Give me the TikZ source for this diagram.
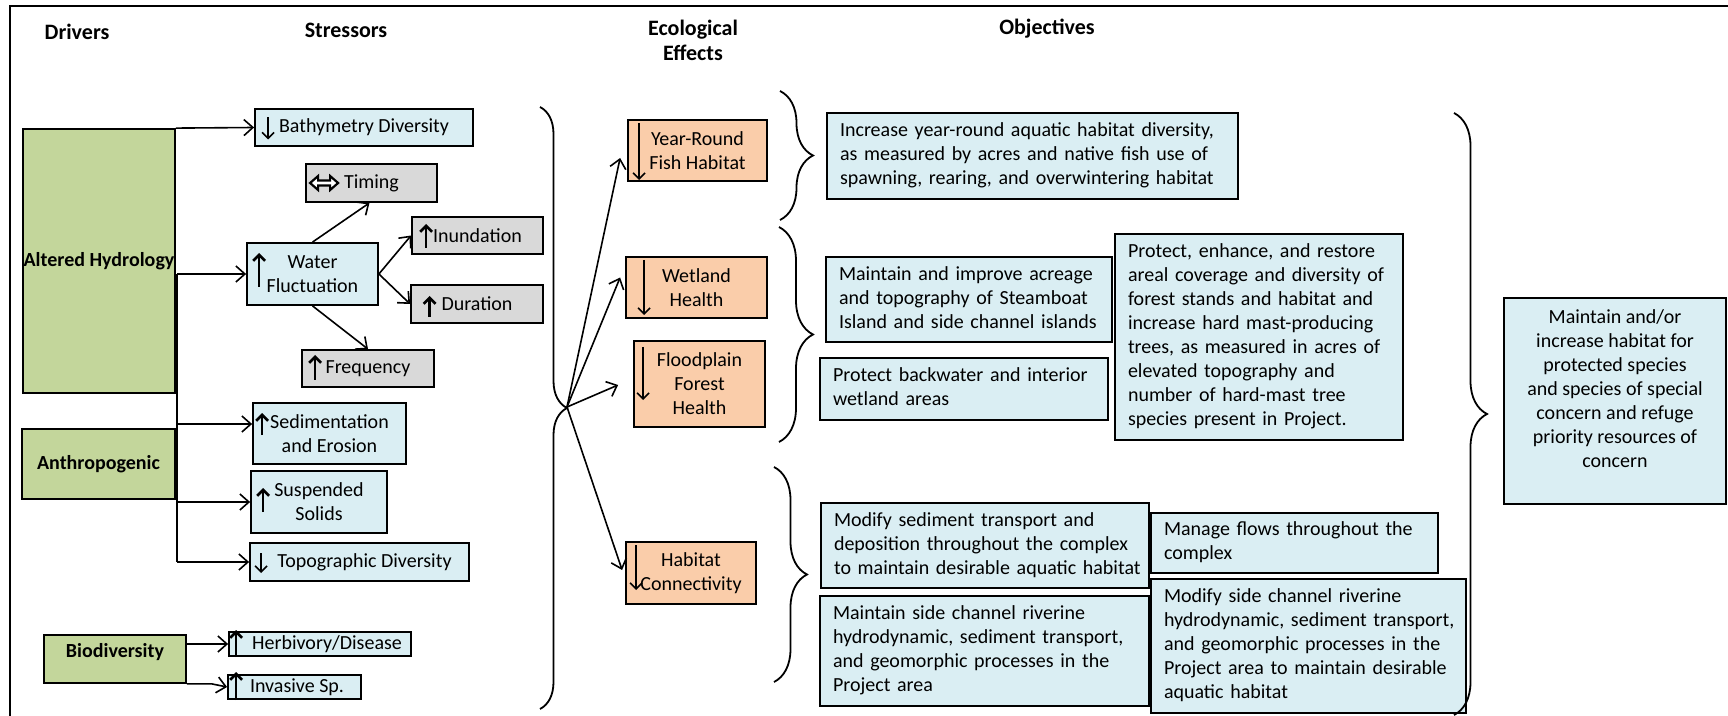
\documentclass[tikz,border=0pt]{standalone}
\usepackage{fontspec}
\setmainfont{Carlito}
\usetikzlibrary{arrows.meta,calc,decorations.pathreplacing}

\definecolor{drvgreen}{RGB}{195,214,155}
\definecolor{strblue}{RGB}{218,238,243}
\definecolor{strgray}{RGB}{217,217,217}
\definecolor{effpeach}{RGB}{250,205,170}

% lines of an objective box, set without automatic wrapping
\newcommand{\objlines}[1]{\begin{tabular}{@{}l@{}}#1\end{tabular}}

\tikzset{
  base/.style={draw=black, line width=0.9pt, inner sep=0pt,
    font=\fontsize{10}{12}\selectfont, align=center},
  driver/.style={base, fill=drvgreen, font=\fontsize{10}{12}\selectfont\bfseries},
  stress/.style={base, fill=strblue},
  flowbox/.style={base, fill=strgray},
  effect/.style={base, fill=effpeach},
  objective/.style={base, fill=strblue, align=left, inner xsep=6.5pt},
  heading/.style={font=\fontsize{11}{12.5}\selectfont\bfseries, align=center, inner sep=0pt},
  conn/.style={line width=0.8pt, -{Straight Barb[length=4.5pt,width=8pt]}},
  trunk/.style={line width=0.8pt},
  upsym/.style={line width=1.3pt, -{Straight Barb[length=3pt,width=6pt]}},
  downsym/.style={line width=0.8pt, -{Straight Barb[length=3pt,width=6pt]}},
  bracket/.style={line width=0.9pt, decorate, decoration={brace, amplitude=#1}},
}

\begin{document}
\begin{tikzpicture}[x=0.5pt, y=-0.5pt]
\useasboundingbox (0,0) rectangle (1728,716);
\clip (0,0) rectangle (1728,716);

% outer frame
\draw[line width=1.3pt] (10,760) -- (10,6) -- (1760,6);

% column headings
\node[heading] (hDrivers) at (77,32) {Drivers};
\node[heading] (hStressors) at (346,30) {Stressors};
\node[heading] (hEffects) at (693,40) {Ecological\\Effects};
\node[heading] (hObjectives) at (1047,29) {Objectives};

% drivers
\node[driver, minimum width=76pt, minimum height=132pt] (AH) at (99,261) {\makebox[0pt]{Altered Hydrology}};
\node[driver, minimum width=76.5pt, minimum height=35pt] (AN) at (98.5,464) {Anthropogenic};
\node[driver, minimum width=71pt, minimum height=24pt] (BIO) at (115,659) {\raisebox{3.5pt}[\height][\depth]{Biodiversity}};

% stressors
\node[stress, minimum width=109pt, minimum height=18.5pt] (BD) at (364,127.5) {Bathymetry Diversity};
\node[flowbox, minimum width=65.5pt, minimum height=19pt] (TM) at (371.5,183) {Timing};
\node[stress, minimum width=65.5pt, minimum height=31pt] (WF) at (312.5,274) {Water\\Fluctuation};
\node[flowbox, minimum width=65.5pt, minimum height=18.5pt] (IN) at (477.5,235.5) {Inundation};
\node[flowbox, minimum width=66pt, minimum height=19pt] (DU) at (477,304) {Duration};
\node[flowbox, minimum width=66pt, minimum height=18.5pt] (FR) at (368,368.5) {Frequency};
\node[stress, minimum width=76.5pt, minimum height=30.5pt] (SE) at (329.5,433.5) {Sedimentation\\and Erosion};
\node[stress, minimum width=68pt, minimum height=31pt] (SS) at (319,502) {Suspended\\Solids};
\node[stress, minimum width=109.5pt, minimum height=19pt] (TD) at (359.5,562) {\hspace*{5pt}Topographic Diversity};
\node[stress, minimum width=91pt, minimum height=12pt] (HD) at (320,644) {\hspace*{7pt}Herbivory/Disease};
\node[stress, minimum width=66.5pt, minimum height=12pt] (IS) at (294.5,687) {\hspace*{2.5pt}Invasive Sp.};

% ecological effects
\node[effect, minimum width=69.5pt, minimum height=30.5pt] (YR) at (697.5,150.5) {Year-Round\\Fish Habitat};
\node[effect, minimum width=70.5pt, minimum height=30.5pt] (WH) at (696.5,287.5) {Wetland\\Health};
\node[effect, minimum width=65.5pt, minimum height=43pt] (FF) at (699.5,384) {Floodplain\\Forest\\Health};
\node[effect, minimum width=65pt, minimum height=31pt] (HC) at (691,573) {Habitat\\Connectivity};

% objectives
\node[objective, text width=192.5pt, minimum height=43pt] (O1) at (1032.5,156)
  {\objlines{Increase year-round aquatic habitat diversity,\\as measured by acres and native fish use of\\spawning, rearing, and overwintering habitat}};
\node[objective, text width=130pt, minimum height=42.5pt] (O2) at (969,299.5)
  {\objlines{Maintain and improve acreage\\and topography of Steamboat\\Island and side channel islands}};
\node[objective, text width=131pt, minimum height=31pt] (O3) at (964,389)
  {\objlines{Protect backwater and interior\\wetland areas}};
\node[objective, text width=131pt, minimum height=103pt] (O4) at (1259,337)
  {\objlines{Protect, enhance, and restore\\areal coverage and diversity of\\forest stands and habitat and\\increase hard mast-producing\\trees, as measured in acres of\\elevated topography and\\number of hard-mast tree\\species present in Project.}};
\node[objective, text width=151pt, minimum height=42.5pt] (O5) at (985,545.5)
  {\objlines{Modify sediment transport and\\deposition throughout the complex\\to maintain desirable aquatic habitat}};
\node[objective, text width=151.5pt, minimum height=55pt] (O6) at (984.5,651)
  {\objlines{Maintain side channel riverine\\hydrodynamic, sediment transport,\\and geomorphic processes in the\\Project area}};
\node[objective, text width=130.5pt, minimum height=30pt] (O7) at (1294.5,543)
  {\objlines{Manage flows throughout the\\complex}};
\node[objective, text width=144.5pt, minimum height=67pt] (O8) at (1308.5,646)
  {\objlines{Modify side channel riverine\\hydrodynamic, sediment transport,\\and geomorphic processes in the\\Project area to maintain desirable\\aquatic habitat}};
\node[base, fill=strblue, minimum width=111pt, minimum height=103pt] (OM) at (1615,401)
  {Maintain and/or\\increase habitat for\\protected species\\and species of special\\concern and refuge\\priority resources of\\concern\\ \mbox{}};

% driver -> stressor connectors
\draw[conn] (AH.north east) -- (BD.west);
\coordinate (tk) at ($(AH.east |- WF.west)+(1,0)$);
\coordinate (seIn) at ($(SE.west)+(0,-9.5)$);
\draw[trunk] (tk) -- (tk |- TD.west);
\draw[conn] (tk) -- (WF.west);
\draw[conn] (tk |- seIn) -- (seIn);
\draw[conn] (tk |- SS.west) -- (SS.west);
\draw[conn] (tk |- TD.west) -- (TD.west);
\draw[conn] (BIO.east |- HD.west) -- (HD.west);
\coordinate (bioKnee) at ($(BIO.south east)+(25,0)$);
\draw[conn] (BIO.south east) -- (bioKnee) -- (IS.west);

% water fluctuation components
\draw[conn] (WF.north) -- ([xshift=-1pt]TM.south);
\draw[conn] (WF.east) -- (IN.west);
\draw[conn] (WF.east) -- (DU.west);
\draw[conn] (WF.south) -- (FR.north);

% grouping braces
\draw[bracket=13.5pt] (540,107) -- (540,709);
\draw[bracket=16.5pt] (780,91) -- (780,220);
\draw[bracket=17pt] (779,227) -- (779,442);
\draw[bracket=16.5pt] (774,467) -- (774,682);
\draw[bracket=16.5pt] (1454,113) -- (1454,715);

% stressors -> ecological effects
\coordinate (fan) at (567,407);
\draw[conn] (fan) -- ($(YR.west)+(-7,7.5)$);
\draw[conn] (fan) -- ($(WH.west)+(-5,-10)$);
\draw[conn] (fan) -- ($(FF.west)+(-15,1)$);
\draw[conn] (fan) -- ($(HC.west)+(-3,-3)$);

% trend symbols inside boxes
\draw[downsym] ($(BD.west)+(14,-10)$) -- ($(BD.west)+(14,12)$);
\draw[line width=1.1pt, fill=white, line join=miter]
  ($(TM.west)+(5,0)$) -- ++(8,-7) -- ++(0,4.5) -- ++(12,0) -- ++(0,-4.5) -- ++(8,7)
  -- ++(-8,7) -- ++(0,-4.5) -- ++(-12,0) -- ++(0,4.5) -- cycle;
\draw[upsym] ($(WF.west)+(13,13)$) -- ($(WF.west)+(13,-21)$);
\draw[upsym] ($(IN.west)+(15,12.5)$) -- ($(IN.west)+(15,-11.5)$);
\draw[upsym] ($(DU.west)+(19.5,13)$) -- ($(DU.west)+(19.5,-8)$);
\draw[upsym] ($(FR.west)+(14,11.5)$) -- ($(FR.west)+(14,-13.5)$);
\draw[upsym] ($(SE.west)+(10,1.5)$) -- ($(SE.west)+(10,-20.5)$);
\draw[upsym] ($(SS.west)+(13,10)$) -- ($(SS.west)+(13,-14)$);
\draw[downsym] ($(TD.west)+(12,-9)$) -- ($(TD.west)+(12,11)$);
\draw[upsym] ($(HD.west)+(8,13)$) -- ($(HD.west)+(8,-14)$);
\draw[upsym] ($(IS.west)+(9,13)$) -- ($(IS.west)+(9,-15)$);
\draw[downsym] ($(YR.west)+(12,-27.5)$) -- ($(YR.west)+(12,29.5)$);
\draw[downsym] ($(WH.west)+(19,-27.5)$) -- ($(WH.west)+(19,27.5)$);
\draw[downsym] ($(FF.west)+(10,-37)$) -- ($(FF.west)+(10,16)$);
\draw[downsym] ($(HC.west)+(11,-28)$) -- ($(HC.west)+(11,17)$);
\end{tikzpicture}
\end{document}
